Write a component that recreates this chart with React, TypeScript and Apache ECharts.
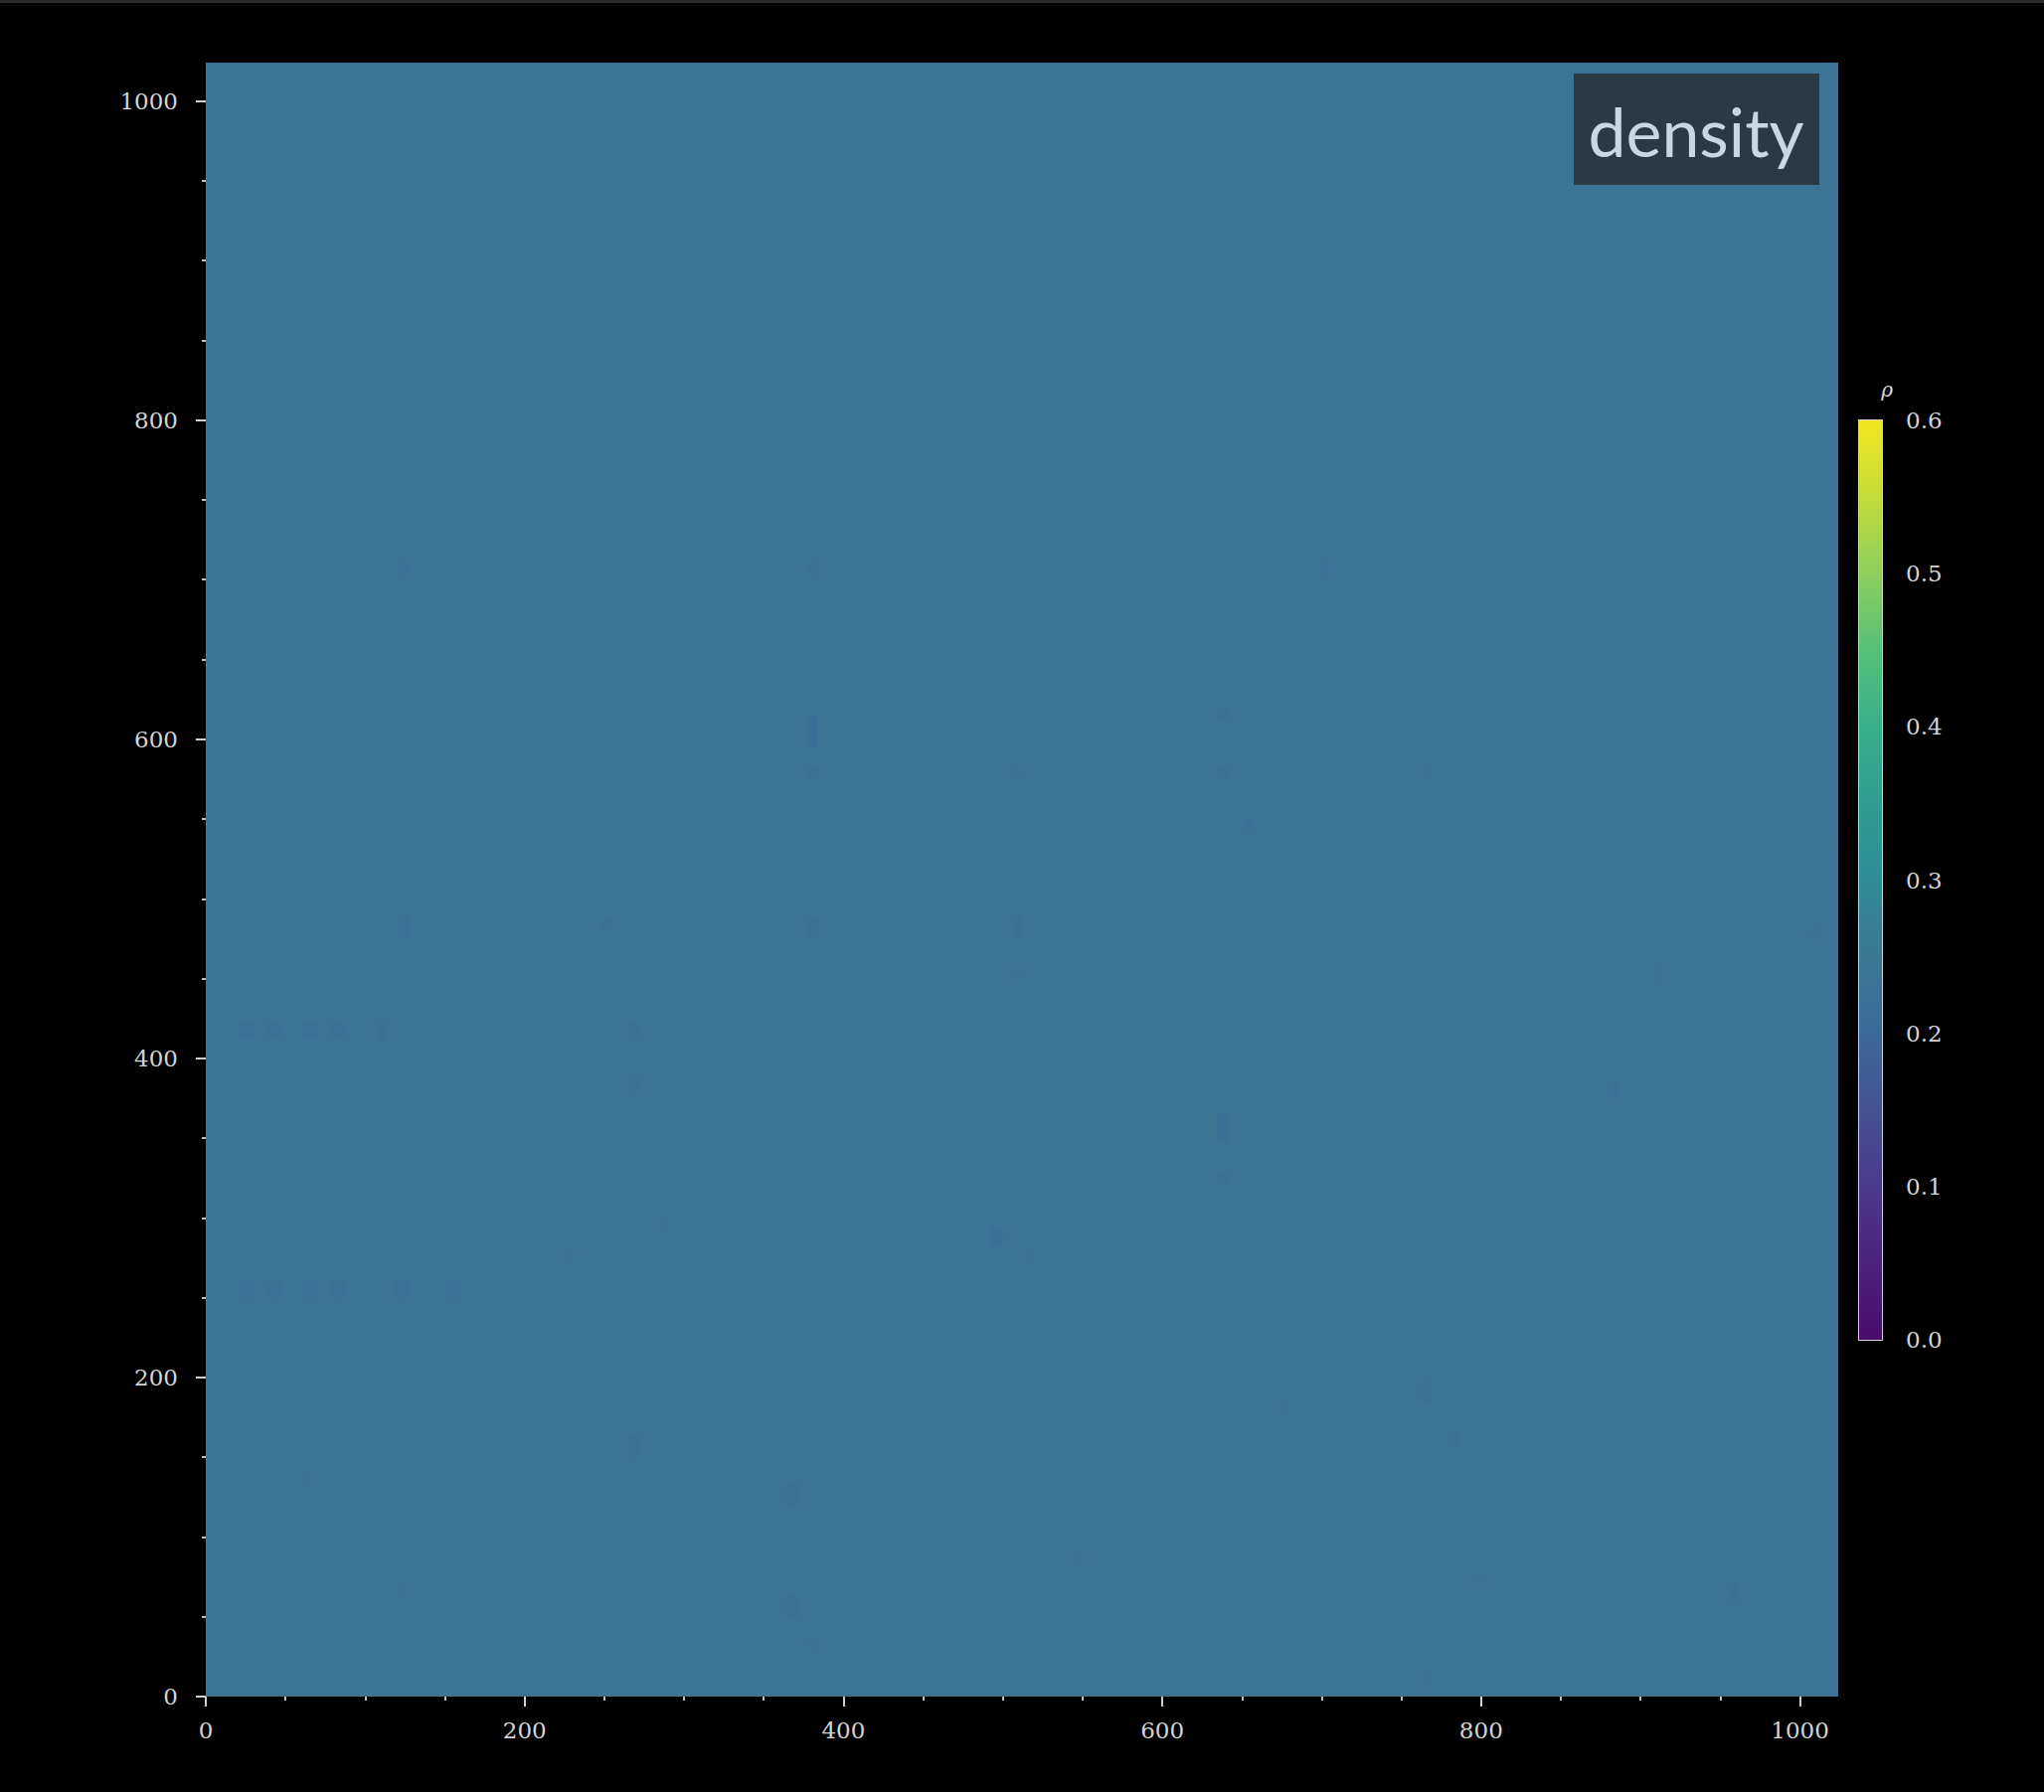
import React, { useEffect, useRef } from "react";
import * as echarts from "echarts";

// ---- data ----
const AXIS_MIN = 0;
const AXIS_MAX = 1024;
const AXIS_STEP = 200;
const axisTickValues = [0, 200, 400, 600, 800, 1000];
const DENSITY_MIN = 0;
const DENSITY_MAX = 0.6;
const DENSITY_STEP = 0.1;

// background field (uniform density): x0, y0, width, height, value
const baseCell = [0, 0, 1024, 1024, 0.235];

// slightly lower-density cells: centre x, centre y, width, height, value
const spotX = [124, 381, 702, 381, 381, 638, 638, 509, 766, 654, 124, 252, 381, 509, 509, 911, 1010, 26, 42, 65, 82, 110, 269, 269, 882, 638, 638, 287, 228, 496, 517, 26, 42, 65, 82, 122, 155, 766, 676, 269, 783, 64, 368, 548, 124, 368, 381, 799, 958, 766];
const spotY = [707, 707, 707, 605, 579, 616, 579, 579, 579, 546, 482, 484, 482, 482, 453, 453, 478, 417, 417, 417, 417, 417, 417, 384, 380, 357, 324, 296, 277, 288, 277, 255, 255, 255, 255, 255, 255, 190, 182, 157, 161, 137, 127, 86, 67, 56, 33, 73, 65, 10];
const spotW = [6, 6, 6, 6, 6, 6, 6, 6, 6, 6, 6, 6, 6, 6, 6, 6, 6, 10, 10, 10, 10, 6, 6, 6, 6, 6, 6, 6, 6, 8, 6, 10, 10, 10, 10, 10, 10, 6, 6, 6, 6, 6, 8, 6, 6, 8, 6, 6, 6, 6];
const spotH = [8, 8, 8, 20, 8, 8, 8, 8, 8, 8, 14, 8, 12, 14, 8, 8, 8, 10, 10, 10, 10, 12, 10, 10, 10, 18, 8, 6, 6, 12, 6, 10, 10, 10, 10, 10, 10, 14, 6, 14, 8, 6, 14, 6, 8, 14, 8, 6, 12, 8];
const spotV = [0.226, 0.226, 0.228, 0.218, 0.226, 0.224, 0.226, 0.228, 0.228, 0.224, 0.224, 0.226, 0.222, 0.222, 0.228, 0.228, 0.229, 0.224, 0.224, 0.224, 0.224, 0.226, 0.224, 0.224, 0.226, 0.218, 0.224, 0.229, 0.229, 0.218, 0.229, 0.224, 0.224, 0.224, 0.224, 0.224, 0.224, 0.224, 0.229, 0.222, 0.226, 0.229, 0.222, 0.229, 0.229, 0.222, 0.229, 0.229, 0.224, 0.229];

// colour scale stops (0.00 .. 0.60 by 0.05)
const paletteColors = [
  "#4a0c6b", "#4c2180", "#4b3a8c", "#455291", "#3b6a99", "#3c7895",
  "#2f8c96", "#2e9e92", "#36b08a", "#55c078", "#8ccf5c", "#c3dc38", "#f2e51f",
];

export default function App() {
  const ref = useRef<HTMLDivElement>(null);

  useEffect(() => {
    if (!ref.current) return;
    const chart = echarts.init(ref.current, null, { renderer: "svg" });

    const cells: number[][] = [
      [baseCell[0] + baseCell[2] / 2, baseCell[1] + baseCell[3] / 2, baseCell[2], baseCell[3], baseCell[4]],
    ];
    for (let i = 0; i < spotX.length; i++) {
      cells.push([spotX[i], spotY[i], spotW[i], spotH[i], spotV[i]]);
    }

    const labelStyle = {
      color: "#d4d4d4",
      fontFamily: "DejaVu Serif",
      fontSize: 23,
    };

    const gradient = new echarts.graphic.LinearGradient(
      0, 1, 0, 0,
      paletteColors.map((c, i) => ({ offset: i / (paletteColors.length - 1), color: c }))
    );

    const mainAxis = (margin: number) => ({
      type: "value",
      min: AXIS_MIN,
      max: AXIS_MAX,
      interval: AXIS_STEP,
      axisLine: { show: false },
      axisTick: {
        show: true, length: 10, customValues: axisTickValues,
        lineStyle: { color: "#d0d0d0", width: 2 },
      },
      minorTick: { show: true, splitNumber: 4, length: 4, lineStyle: { color: "#bdbdbd", width: 2 } },
      splitLine: { show: false },
      axisLabel: {
        ...labelStyle, margin, customValues: axisTickValues,
        formatter: (v: number) => String(v),
      },
    });

    chart.setOption({
      animation: false,
      backgroundColor: "#000000",
      grid: [
        { left: 207, top: 63, width: 1642, height: 1644, containLabel: false },
        {
          left: 1870, top: 423, width: 23, height: 925, containLabel: false,
          show: true, borderColor: "#cfcfcf", borderWidth: 2, backgroundColor: "transparent",
        },
      ],
      xAxis: [
        { ...mainAxis(22), gridIndex: 0 },
        { type: "value", gridIndex: 1, min: 0, max: 1, show: false },
      ],
      yAxis: [
        { ...mainAxis(28), gridIndex: 0 },
        {
          type: "value", gridIndex: 1, position: "right",
          min: DENSITY_MIN, max: DENSITY_MAX, interval: DENSITY_STEP,
          axisLine: { show: false },
          axisTick: { show: true, length: 12, lineStyle: { color: "#d0d0d0", width: 2 } },
          splitLine: { show: false },
          axisLabel: { ...labelStyle, margin: 24, formatter: (v: number) => v.toFixed(1) },
        },
      ],
      visualMap: {
        show: false,
        type: "continuous",
        seriesIndex: 0,
        dimension: 4,
        min: DENSITY_MIN,
        max: DENSITY_MAX,
        inRange: { color: paletteColors },
      },
      series: [
        {
          type: "custom",
          xAxisIndex: 0,
          yAxisIndex: 0,
          data: cells,
          encode: { x: 0, y: 1 },
          silent: true,
          renderItem: (params: any, api: any) => {
            const cx = api.value(0);
            const cy = api.value(1);
            const w = api.value(2);
            const h = api.value(3);
            const p0 = api.coord([cx - w / 2, cy + h / 2]);
            const p1 = api.coord([cx + w / 2, cy - h / 2]);
            return {
              type: "rect",
              shape: { x: p0[0], y: p0[1], width: p1[0] - p0[0], height: p1[1] - p0[1] },
              style: { fill: api.visual("color") },
            };
          },
        },
        {
          type: "custom",
          xAxisIndex: 1,
          yAxisIndex: 1,
          data: [[0, DENSITY_MIN, 1, DENSITY_MAX]],
          silent: true,
          renderItem: (params: any, api: any) => {
            const p0 = api.coord([api.value(0), api.value(3)]);
            const p1 = api.coord([api.value(2), api.value(1)]);
            return {
              type: "rect",
              shape: { x: p0[0], y: p0[1], width: p1[0] - p0[0], height: p1[1] - p0[1] },
              style: { fill: gradient },
            };
          },
        },
      ],
      graphic: [
        { type: "rect", left: 0, top: 0, shape: { width: 2056, height: 3 }, style: { fill: "#2b2b2b" }, silent: true },
        {
          type: "rect", shape: { x: 1583, y: 74, width: 247, height: 112 },
          style: { fill: "#293a45" }, silent: true, z: 10,
        },
        {
          type: "text", x: 1706, y: 131, z: 11, silent: true,
          style: {
            text: "density", fill: "#c6d9e3", font: "68px Lato",
            textAlign: "center", textVerticalAlign: "middle",
          },
        },
        {
          type: "text", x: 1898, y: 392, silent: true,
          style: {
            text: "ρ", fill: "#d9d9d9", font: "italic 20px 'DejaVu Serif'",
            textAlign: "center", textVerticalAlign: "middle",
          },
        },
      ],
    });

    return () => chart.dispose();
  }, []);

  return (
    <div
      ref={ref}
      style={{ position: "absolute", left: 0, top: 0, width: 2056, height: 1803, background: "#000" }}
    />
  );
}
